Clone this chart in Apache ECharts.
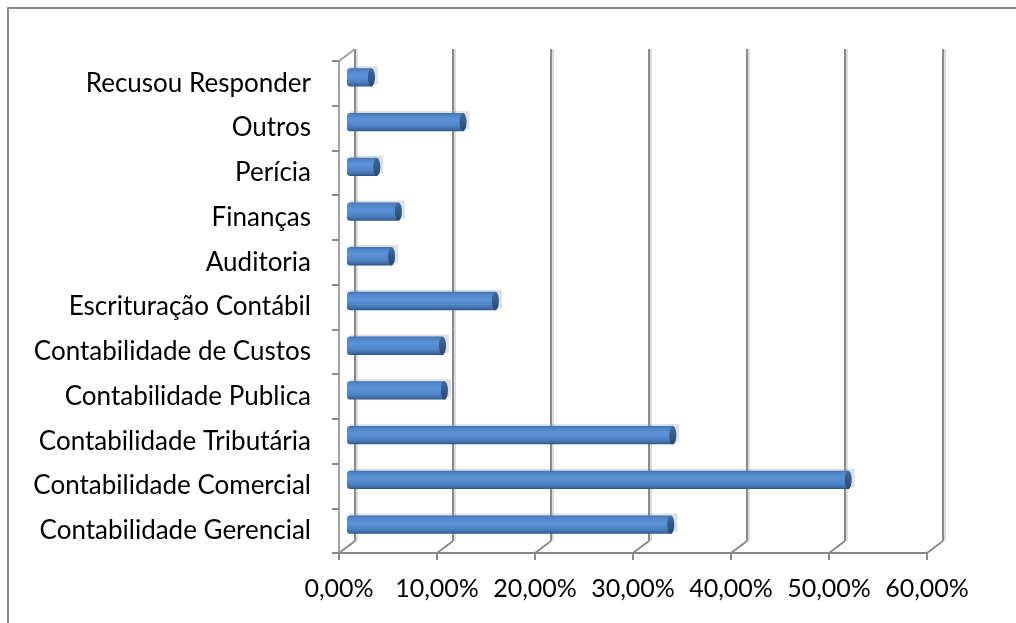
<!DOCTYPE html>
<html>
<head>
<meta charset="utf-8">
<script src="https://cdn.jsdelivr.net/npm/echarts@6/dist/echarts.min.js"></script>
<style>
  html, body { margin: 0; padding: 0; background: #fff; }
  #chart { width: 1016px; height: 623px; }
</style>
</head>
<body>
<div id="chart"></div>
<script>
// categories listed bottom -> top (category axis starts at the bottom)
const categories = [
  'Contabilidade Gerencial',
  'Contabilidade Comercial',
  'Contabilidade Tributária',
  'Contabilidade Publica',
  'Contabilidade de Custos',
  'Escrituração Contábil',
  'Auditoria',
  'Finanças',
  'Perícia',
  'Outros',
  'Recusou Responder'
];
const values = [33.4, 51.5, 33.6, 10.3, 10.1, 15.5, 4.9, 5.6, 3.4, 12.2, 2.85];
const xTicks = [0, 10, 20, 30, 40, 50, 60];
const xTickLabels = ['0,00%', '10,00%', '20,00%', '30,00%', '40,00%', '50,00%', '60,00%'];

// depth of the fake 3d box
const DX = 16, DY = -12;
const FONT = 'Lato';

let chart = echarts.init(document.getElementById('chart'));

// back wall grid lines + floor diagonals
function renderWall(params, api) {
  const cs = params.coordSys;
  const x = api.coord([api.value(0), 0])[0];
  const top = cs.y, bottom = cs.y + cs.height;
  const children = [
    { type: 'line', shape: { x1: x + DX + 2, y1: top + DY, x2: x + DX + 2, y2: bottom + DY },
      style: { stroke: '#dcdcdc', lineWidth: 2 } },
    { type: 'line', shape: { x1: x + DX, y1: top + DY, x2: x + DX, y2: bottom + DY },
      style: { stroke: '#8a8a8a', lineWidth: 2 } },
    { type: 'line', shape: { x1: x, y1: bottom, x2: x + DX, y2: bottom + DY },
      style: { stroke: '#8a8a8a', lineWidth: 2 } }
  ];
  if (params.dataIndex === 0) {
    children.push({ type: 'line', shape: { x1: x, y1: top, x2: x + DX, y2: top + DY },
      style: { stroke: '#a0a0a0', lineWidth: 2 } });
  }
  return { type: 'group', children: children };
}

// cylinder-ish bars
function renderBar(params, api) {
  const i = api.value(0), v = api.value(1);
  const s = api.coord([0, i]), e = api.coord([v, i]);
  const h = api.size([0, 1])[1] * 0.41;
  const x0 = s[0] + DX / 2, x1 = e[0] + DX / 2, yc = s[1] + DY / 2;
  const cap = 3.5;
  return {
    type: 'group',
    children: [
      { type: 'rect', shape: { x: x0 + 3, y: yc - h / 2 - 2, width: x1 - x0, height: h },
        style: { fill: 'rgba(140,155,180,0.30)' } },
      { type: 'rect', shape: { x: x0, y: yc - h / 2, width: x1 - x0 - cap, height: h, r: [3, 0, 0, 3] },
        style: { fill: new echarts.graphic.LinearGradient(0, 0, 0, 1, [
          { offset: 0, color: '#3d6ca8' },
          { offset: 0.1, color: '#4f85c6' },
          { offset: 0.4, color: '#5c93d8' },
          { offset: 0.72, color: '#4f83c3' },
          { offset: 0.9, color: '#3e6ba5' },
          { offset: 1, color: '#2d5283' }
        ]) } },
      { type: 'ellipse', shape: { cx: x1 - cap, cy: yc, rx: cap, ry: h / 2 },
        style: { fill: new echarts.graphic.LinearGradient(0, 0, 0, 1, [
          { offset: 0, color: '#3d6aa5' },
          { offset: 1, color: '#264875' }
        ]) } }
    ]
  };
}

let option = {
  animation: false,
  backgroundColor: '#fff',
  graphic: [
    { type: 'rect', shape: { x: 8, y: 8, width: 1100, height: 700 },
      style: { fill: 'none', stroke: '#8a8a8a', lineWidth: 2 }, z: -10 }
  ],
  grid: { left: 339, right: 89, top: 61, bottom: 70 },
  xAxis: {
    type: 'value',
    min: 0,
    max: 60,
    interval: 10,
    splitLine: { show: false },
    axisLine: { show: true, lineStyle: { color: '#8a8a8a', width: 2 } },
    axisTick: { show: true, length: 7, lineStyle: { color: '#8a8a8a', width: 2 } },
    axisLabel: {
      margin: 23,
      color: '#000',
      fontFamily: FONT,
      fontSize: 25,
      formatter: function (val) { return xTickLabels[xTicks.indexOf(val)]; }
    }
  },
  yAxis: {
    type: 'category',
    data: categories,
    axisLine: { show: true, lineStyle: { color: '#a6a6a6', width: 2 } },
    axisTick: { show: true, length: 7, lineStyle: { color: '#8a8a8a', width: 2 } },
    axisLabel: { margin: 28, color: '#000', fontFamily: FONT, fontSize: 26 }
  },
  series: [
    {
      type: 'custom',
      renderItem: renderWall,
      data: xTicks.map(function (t) { return [t]; }),
      encode: { x: 0 },
      silent: true,
      z: 1
    },
    {
      type: 'custom',
      renderItem: renderBar,
      data: values.map(function (v, i) { return [i, v]; }),
      encode: { x: 1, y: 0 },
      z: 5
    }
  ]
};

chart.setOption(option);
</script>
</body>
</html>
